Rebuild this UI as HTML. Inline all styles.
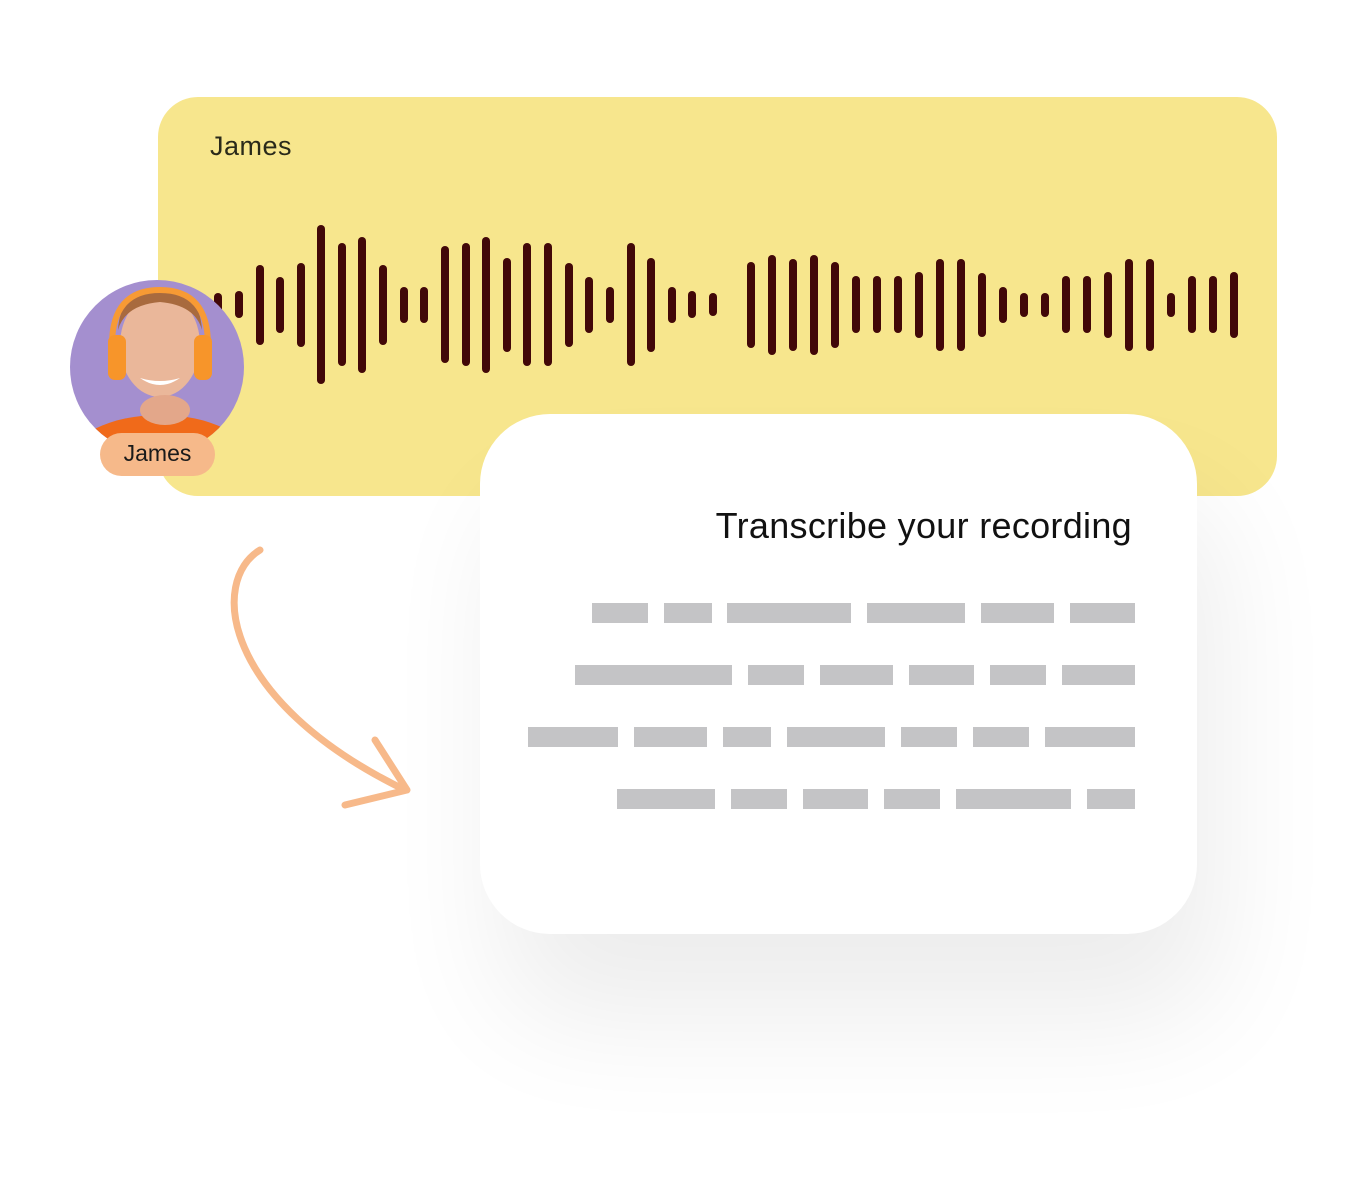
<!DOCTYPE html>
<html><head><meta charset="utf-8"><style>
html,body{margin:0;padding:0;background:#fff;width:1350px;height:1201px;overflow:hidden}
svg{display:block}
</style></head><body>
<svg width="1350" height="1201" viewBox="0 0 1350 1201" xmlns="http://www.w3.org/2000/svg">
<defs>
<filter id="sh" x="-50%" y="-50%" width="200%" height="200%"><feGaussianBlur stdDeviation="60"/></filter>
<clipPath id="av"><circle cx="157" cy="367" r="87"/></clipPath>
</defs>
<rect x="158" y="97" width="1119" height="399" rx="40" fill="#f7e68d"/>
<text x="210" y="155" font-family="Liberation Sans, sans-serif" font-size="27" fill="#2a2a1a" letter-spacing="0.5">James</text>
<g stroke="#420808" stroke-width="8" stroke-linecap="round">
<line x1="218" y1="297" x2="218" y2="312"/>
<line x1="239" y1="295" x2="239" y2="314"/>
<line x1="260" y1="269" x2="260" y2="341"/>
<line x1="280" y1="281" x2="280" y2="329"/>
<line x1="301" y1="267" x2="301" y2="343"/>
<line x1="321" y1="229" x2="321" y2="380"/>
<line x1="342" y1="247" x2="342" y2="362"/>
<line x1="362" y1="241" x2="362" y2="369"/>
<line x1="383" y1="269" x2="383" y2="341"/>
<line x1="404" y1="291" x2="404" y2="319"/>
<line x1="424" y1="291" x2="424" y2="319"/>
<line x1="445" y1="250" x2="445" y2="359"/>
<line x1="466" y1="247" x2="466" y2="362"/>
<line x1="486" y1="241" x2="486" y2="369"/>
<line x1="507" y1="262" x2="507" y2="348"/>
<line x1="527" y1="247" x2="527" y2="362"/>
<line x1="548" y1="247" x2="548" y2="362"/>
<line x1="569" y1="267" x2="569" y2="343"/>
<line x1="589" y1="281" x2="589" y2="329"/>
<line x1="610" y1="291" x2="610" y2="319"/>
<line x1="631" y1="247" x2="631" y2="362"/>
<line x1="651" y1="262" x2="651" y2="348"/>
<line x1="672" y1="291" x2="672" y2="319"/>
<line x1="692" y1="295" x2="692" y2="314"/>
<line x1="713" y1="297" x2="713" y2="312"/>
<line x1="751" y1="266" x2="751" y2="344"/>
<line x1="772" y1="259" x2="772" y2="351"/>
<line x1="793" y1="263" x2="793" y2="347"/>
<line x1="814" y1="259" x2="814" y2="351"/>
<line x1="835" y1="266" x2="835" y2="344"/>
<line x1="856" y1="280" x2="856" y2="329"/>
<line x1="877" y1="280" x2="877" y2="329"/>
<line x1="898" y1="280" x2="898" y2="329"/>
<line x1="919" y1="276" x2="919" y2="334"/>
<line x1="940" y1="263" x2="940" y2="347"/>
<line x1="961" y1="263" x2="961" y2="347"/>
<line x1="982" y1="277" x2="982" y2="333"/>
<line x1="1003" y1="291" x2="1003" y2="319"/>
<line x1="1024" y1="297" x2="1024" y2="313"/>
<line x1="1045" y1="297" x2="1045" y2="313"/>
<line x1="1066" y1="280" x2="1066" y2="329"/>
<line x1="1087" y1="280" x2="1087" y2="329"/>
<line x1="1108" y1="276" x2="1108" y2="334"/>
<line x1="1129" y1="263" x2="1129" y2="347"/>
<line x1="1150" y1="263" x2="1150" y2="347"/>
<line x1="1171" y1="297" x2="1171" y2="313"/>
<line x1="1192" y1="280" x2="1192" y2="329"/>
<line x1="1213" y1="280" x2="1213" y2="329"/>
<line x1="1234" y1="276" x2="1234" y2="334"/>
</g>
<g clip-path="url(#av)">
<rect x="60" y="270" width="200" height="200" fill="#a48fcf"/>
<ellipse cx="160" cy="460" rx="90" ry="45" fill="#f06a1a"/>
<ellipse cx="160" cy="345" rx="40" ry="52" fill="#eab79a"/>
<path d="M118 330 Q120 290 160 290 Q200 290 202 330 Q195 305 160 302 Q125 305 118 330Z" fill="#a86a3e"/>
<path d="M112 345 Q112 290 160 290 Q208 290 208 345" fill="none" stroke="#f79a34" stroke-width="6"/>
<rect x="108" y="335" width="18" height="45" rx="7" fill="#f7952a"/>
<rect x="194" y="335" width="18" height="45" rx="7" fill="#f7952a"/>
<path d="M140 378 Q160 392 180 378 Q160 384 140 378Z" fill="#fff"/>
<ellipse cx="165" cy="410" rx="25" ry="15" fill="#e3a78a"/>
</g>
<rect x="100" y="433" width="115" height="43" rx="21.5" fill="#f6b98a"/>
<text x="157.5" y="461" text-anchor="middle" font-family="Liberation Sans, sans-serif" font-size="23" fill="#1a1a1a">James</text>
<rect x="500" y="500" width="720" height="520" rx="70" fill="#000" opacity="0.07" filter="url(#sh)"/>
<rect x="480" y="414" width="717" height="520" rx="70" fill="#fff"/>
<text x="1132" y="538" text-anchor="end" font-family="Liberation Sans, sans-serif" font-size="36" fill="#111" letter-spacing="0.3">Transcribe your recording</text>
<g fill="#c4c4c6">
<rect x="592" y="603" width="56" height="20"/><rect x="664" y="603" width="48" height="20"/><rect x="727" y="603" width="124" height="20"/><rect x="867" y="603" width="98" height="20"/><rect x="981" y="603" width="73" height="20"/><rect x="1070" y="603" width="65" height="20"/>
<rect x="575" y="665" width="157" height="20"/><rect x="748" y="665" width="56" height="20"/><rect x="820" y="665" width="73" height="20"/><rect x="909" y="665" width="65" height="20"/><rect x="990" y="665" width="56" height="20"/><rect x="1062" y="665" width="73" height="20"/>
<rect x="528" y="727" width="90" height="20"/><rect x="634" y="727" width="73" height="20"/><rect x="723" y="727" width="48" height="20"/><rect x="787" y="727" width="98" height="20"/><rect x="901" y="727" width="56" height="20"/><rect x="973" y="727" width="56" height="20"/><rect x="1045" y="727" width="90" height="20"/>
<rect x="617" y="789" width="98" height="20"/><rect x="731" y="789" width="56" height="20"/><rect x="803" y="789" width="65" height="20"/><rect x="884" y="789" width="56" height="20"/><rect x="956" y="789" width="115" height="20"/><rect x="1087" y="789" width="48" height="20"/>
</g>
<g fill="none" stroke="#f7b98a" stroke-width="7" stroke-linecap="round" stroke-linejoin="round">
<path d="M260 550 C210 580 220 700 405 790"/>
<path d="M375 740 L407 790 L345 805"/>
</g>
</svg>
</body></html>
